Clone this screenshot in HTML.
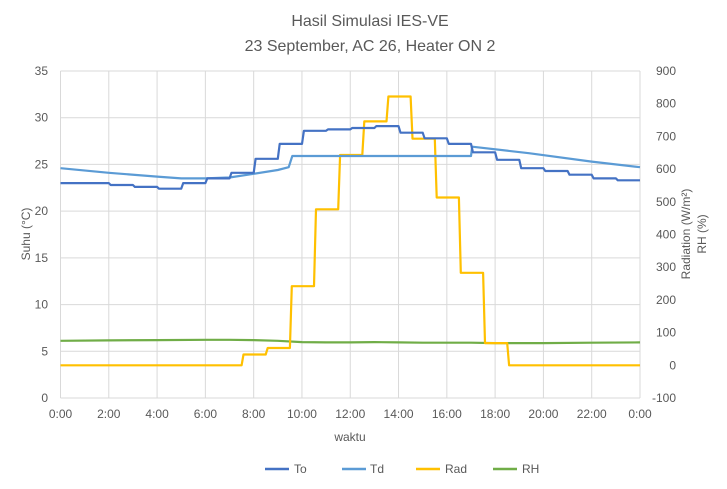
<!DOCTYPE html>
<html><head><meta charset="utf-8"><style>
body{margin:0;background:#fff;}
svg{display:block;font-family:"Liberation Sans",sans-serif;}
</style></head><body>
<svg id="chart" width="727" height="489">
<text x="370" y="26" text-anchor="middle" font-size="16" fill="#595959">Hasil Simulasi IES-VE</text>
<text x="370" y="51" text-anchor="middle" font-size="16" fill="#595959">23 September, AC 26, Heater ON 2</text>
<text transform="translate(30,234) rotate(-90)" text-anchor="middle" font-size="12" fill="#595959">Suhu (°C)</text>
<text transform="translate(690,234) rotate(-90)" text-anchor="middle" font-size="12" fill="#595959">Radiation (W/m²)</text>
<text transform="translate(706,234) rotate(-90)" text-anchor="middle" font-size="12" fill="#595959">RH (%)</text>
<text x="350" y="441" text-anchor="middle" font-size="12" fill="#595959">waktu</text>
<g id="grid"></g><g id="series"></g><g id="labels"></g>
<g font-size="12" fill="#595959">
<g><line x1="265" y1="469" x2="289" y2="469" stroke="#4472C4" stroke-width="2.5"/><text x="294" y="473">To</text></g>
<g><line x1="342" y1="469" x2="366" y2="469" stroke="#5B9BD5" stroke-width="2.5"/><text x="370" y="473">Td</text></g>
<g><line x1="416" y1="469" x2="440" y2="469" stroke="#FFC000" stroke-width="2.5"/><text x="445" y="473">Rad</text></g>
<g><line x1="493" y1="469" x2="517" y2="469" stroke="#70AD47" stroke-width="2.5"/><text x="522" y="473">RH</text></g>
</g>
</svg>
<script>
const toHours=[0,2,3,4,5,6,7,8,9,10,11,12,13,14,15,16,17,18,19,20,21,22,23];
const toValues=[23.0,22.8,22.6,22.4,23.0,23.5,24.1,25.6,27.2,28.6,28.75,28.9,29.1,28.4,27.8,27.2,26.3,25.5,24.6,24.3,23.9,23.5,23.3];
const tdHours=[0,2,4,5,6,7,8,9,9.45,9.6,17,17.05,19.4,22,24];
const tdValues=[24.6,24.1,23.7,23.5,23.5,23.6,24.0,24.4,24.7,25.9,25.9,26.9,26.2,25.3,24.7];
const radHours=[0,7.5,8.5,9.5,10.5,11.5,12.5,13.5,14.5,15.5,16.5,17.5,18.5];
const radValues=[0,33,53,242,477,643,746,822,693,513,283,68,0];
const rhHours=[0,2,4,6,7,8,9,10,11,12,13,14,15,16,17,18,19,20,22,24];
const rhValues=[75,76,77,78,78,77,75,71,70,70,71,70,69,69,69,68,68,68,69,70];
const leftTicks=[0,5,10,15,20,25,30,35];
const rightTicks=[-100,0,100,200,300,400,500,600,700,800,900];
const xTickLabels=["0:00","2:00","4:00","6:00","8:00","10:00","12:00","14:00","16:00","18:00","20:00","22:00","0:00"];
const X0=60.5,X1=640,YT=71,YB=398;
const xs=h=>X0+h*(X1-X0)/24;
const yl=v=>YB-v*(YB-YT)/35;
const yr=v=>YB-(v+100)*(YB-YT)/1000;
const NS="http://www.w3.org/2000/svg";
function mk(tag,parent){const e=document.createElementNS(NS,tag);document.getElementById(parent).appendChild(e);return e;}
leftTicks.forEach(v=>{
 const l=mk('line','grid');l.setAttribute('x1',X0);l.setAttribute('x2',X1);l.setAttribute('y1',yl(v));l.setAttribute('y2',yl(v));l.setAttribute('stroke','#d9d9d9');
 
 
 const t=mk('text','labels');t.setAttribute('x',48);t.setAttribute('y',yl(v)+4);t.setAttribute('text-anchor','end');t.setAttribute('font-size','12');t.setAttribute('fill','#595959');t.textContent=v;
 
 
});
rightTicks.forEach(v=>{
 const t=mk('text','labels');t.setAttribute('x',676);t.setAttribute('y',yr(v)+4);t.setAttribute('text-anchor','end');t.setAttribute('font-size','12');t.setAttribute('fill','#595959');t.textContent=v;
 
 
});
xTickLabels.forEach((s,i)=>{
 const x=xs(i*2);
 const l=mk('line','grid');l.setAttribute('x1',x);l.setAttribute('x2',x);l.setAttribute('y1',YT);l.setAttribute('y2',YB);l.setAttribute('stroke','#d9d9d9');
 
 
 const t=mk('text','labels');t.setAttribute('x',x);t.setAttribute('y',418);t.setAttribute('text-anchor','middle');t.setAttribute('font-size','12');t.setAttribute('fill','#595959');t.textContent=s;
 
 
});
function stepPts(hs,vs,yf){const p=[];for(let i=0;i<hs.length;i++){const end=i+1<hs.length?hs[i+1]:24;p.push([xs(hs[i]+(i?0.08:0)),yf(vs[i])]);p.push([xs(end),yf(vs[i])]);}return p;}
function linePts(hs,vs,yf){return hs.map((h,i)=>[xs(h),yf(vs[i])]);}
function draw(pts,color,name){const p=mk('polyline','series');p.setAttribute('points',pts.map(a=>a[0].toFixed(1)+','+a[1].toFixed(1)).join(' '));p.setAttribute('fill','none');p.setAttribute('stroke',color);p.setAttribute('stroke-width','2.2');p.setAttribute('stroke-linejoin','round');
 
 }
draw(linePts(rhHours,rhValues,yr),'#70AD47','series-rh');
draw(stepPts(radHours,radValues,yr),'#FFC000','series-rad');
draw(linePts(tdHours,tdValues,yl),'#5B9BD5','series-td');
draw(stepPts(toHours,toValues,yl),'#4472C4','series-to');
</script>
</body></html>
